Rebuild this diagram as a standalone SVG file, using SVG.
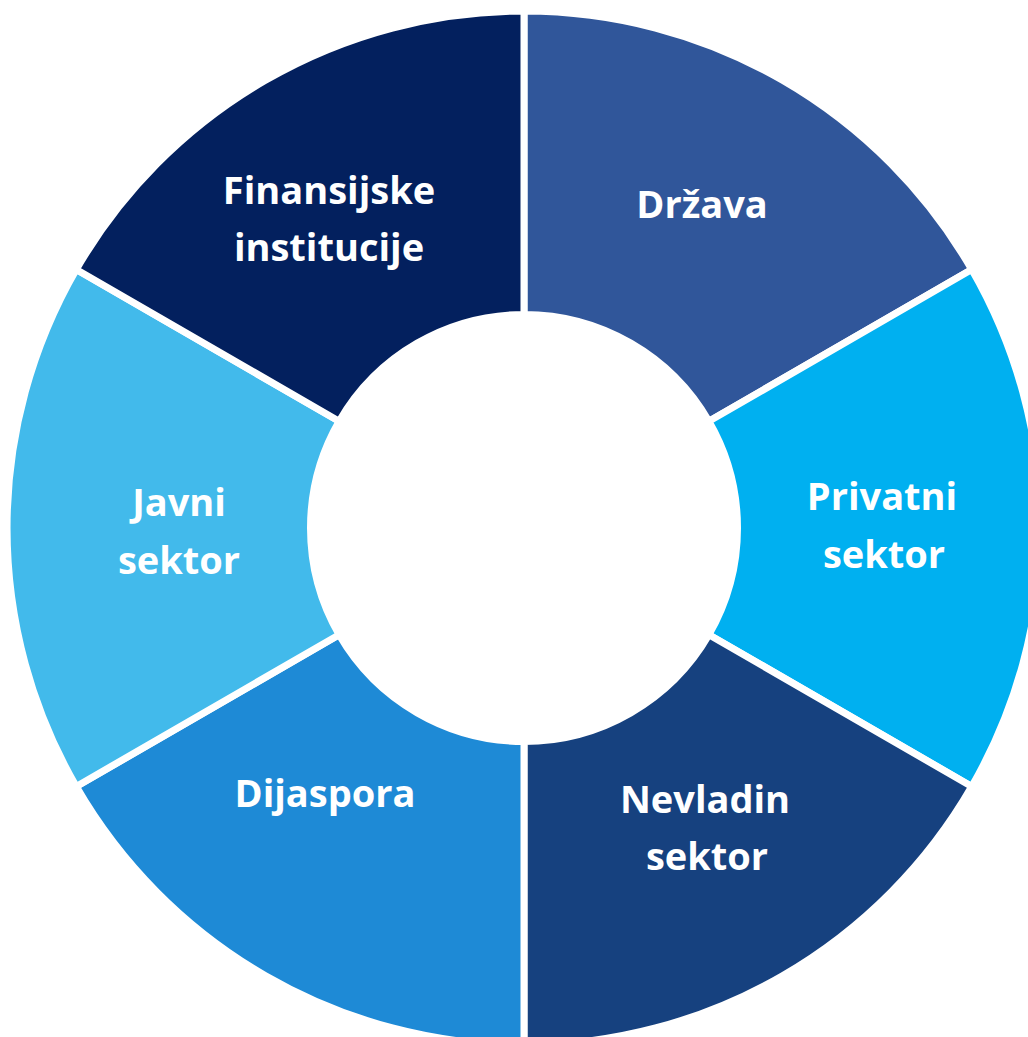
<svg xmlns="http://www.w3.org/2000/svg" width="1028" height="1037" viewBox="0 0 1028 1037">
<style>
.seg{stroke:#ffffff;stroke-width:7;stroke-linejoin:miter}
.lbl{font-family:"Open Sans",Lato,"Liberation Sans",sans-serif;font-weight:700;font-size:38px;fill:#ffffff;text-anchor:middle}
</style>
<rect width="1028" height="1037" fill="#ffffff"/>
<g id="drzava">
<path class="seg" fill="#30569A" d="M524,11 A517,517 0 0 1 971.7,269.5 L708.9,421.25 A213.5,213.5 0 0 0 524,314.5 Z"/>
<text class="lbl" x="702" y="218">Država</text>
</g>
<g id="privatni-sektor">
<path class="seg" fill="#00B0F0" d="M971.7,269.5 A517,517 0 0 1 971.7,786.5 L708.9,634.75 A213.5,213.5 0 0 0 708.9,421.25 Z"/>
<text class="lbl" x="882" y="510">Privatni</text>
<text class="lbl" x="884" y="568">sektor</text>
</g>
<g id="nevladin-sektor">
<path class="seg" fill="#16417F" d="M971.7,786.5 A517,517 0 0 1 524,1045 L524,741.5 A213.5,213.5 0 0 0 708.9,634.75 Z"/>
<text class="lbl" x="705" y="813">Nevladin</text>
<text class="lbl" x="707" y="870">sektor</text>
</g>
<g id="dijaspora">
<path class="seg" fill="#1E8AD6" d="M524,1045 A517,517 0 0 1 76.3,786.5 L339.1,634.75 A213.5,213.5 0 0 0 524,741.5 Z"/>
<text class="lbl" x="325" y="807">Dijaspora</text>
</g>
<g id="javni-sektor">
<path class="seg" fill="#42BAEB" d="M76.3,786.5 A517,517 0 0 1 76.3,269.5 L339.1,421.25 A213.5,213.5 0 0 0 339.1,634.75 Z"/>
<text class="lbl" x="179" y="516">Javni</text>
<text class="lbl" x="179" y="574">sektor</text>
</g>
<g id="finansijske-institucije">
<path class="seg" fill="#03205E" d="M76.3,269.5 A517,517 0 0 1 524,11 L524,314.5 A213.5,213.5 0 0 0 339.1,421.25 Z"/>
<text class="lbl" x="329" y="204">Finansijske</text>
<text class="lbl" x="329" y="261">institucije</text>
</g>
<g id="connectors"></g>
</svg>
